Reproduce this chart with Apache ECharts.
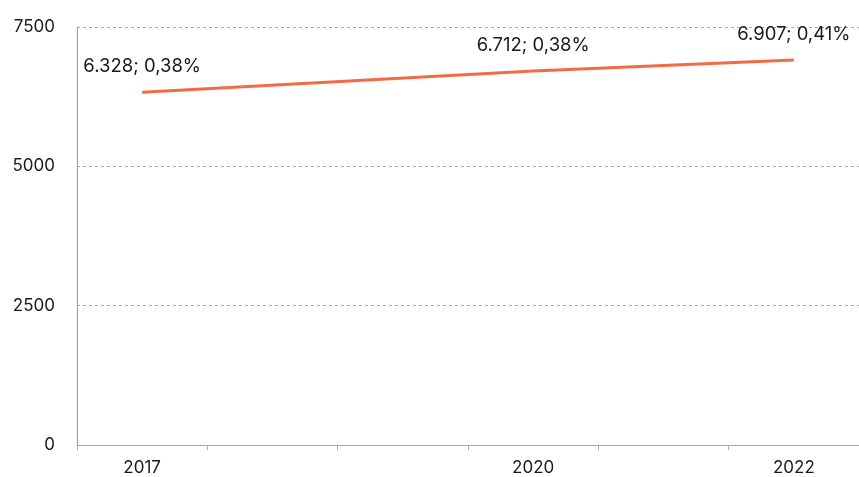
<!DOCTYPE html>
<html>
<head>
<meta charset="utf-8">
<script src="https://cdn.jsdelivr.net/npm/echarts@6/dist/echarts.min.js"></script>
<style>
  html, body { margin: 0; padding: 0; background: #fff; }
  #chart { width: 859px; height: 477px; }
</style>
</head>
<body>
<div id="chart"></div>
<script>
const years = ['2017', '2018', '2019', '2020', '2021', '2022']
const values = [6328, null, null, 6712, null, 6907]
const shares = ['0,38%', null, null, '0,38%', null, '0,41%']
const yTicks = [0, 2500, 5000, 7500]

const fmtNum = v => (v / 1000).toFixed(3)

const chart = echarts.init(document.getElementById('chart'))

const option = {
  animation: false,
  textStyle: { fontFamily: 'Inter, "Liberation Sans", sans-serif' },
  grid: { left: 77, right: -3, top: 27, bottom: 32 },
  xAxis: {
    type: 'category',
    data: years,
    boundaryGap: true,
    axisLine: { lineStyle: { color: '#aaa', width: 1 } },
    axisTick: { show: true, length: 5, lineStyle: { color: '#aaa' } },
    axisLabel: {
      color: '#1a1a1a',
      fontSize: 17,
      margin: 14,
      interval: 0,
      formatter: (v, i) => values[i] == null ? '' : v
    },
    splitLine: { show: false }
  },
  yAxis: {
    type: 'value',
    min: yTicks[0],
    max: yTicks[yTicks.length - 1],
    interval: 2500,
    axisLine: { show: true, lineStyle: { color: '#999', width: 1 } },
    axisTick: { show: false },
    axisLabel: {
      color: '#1a1a1a',
      fontSize: 17,
      margin: 22,
      formatter: v => String(v)
    },
    splitLine: { lineStyle: { color: '#aaa', type: [3, 3], width: 1 } }
  },
  series: [
    {
      type: 'line',
      data: values,
      connectNulls: true,
      symbol: 'circle',
      symbolSize: 2,
      showSymbol: true,
      itemStyle: { color: 'rgba(242,107,67,0)', borderWidth: 0 },
      lineStyle: { color: '#f26b43', width: 3 },
      label: {
        show: true,
        position: 'top',
        distance: 15,
        color: '#1a1a1a',
        fontSize: 18.5,
        formatter: p => fmtNum(p.value) + '; ' + shares[p.dataIndex]
      },
      labelLayout: { hideOverlap: false }
    }
  ]
}

chart.setOption(option)
</script>
</body>
</html>
